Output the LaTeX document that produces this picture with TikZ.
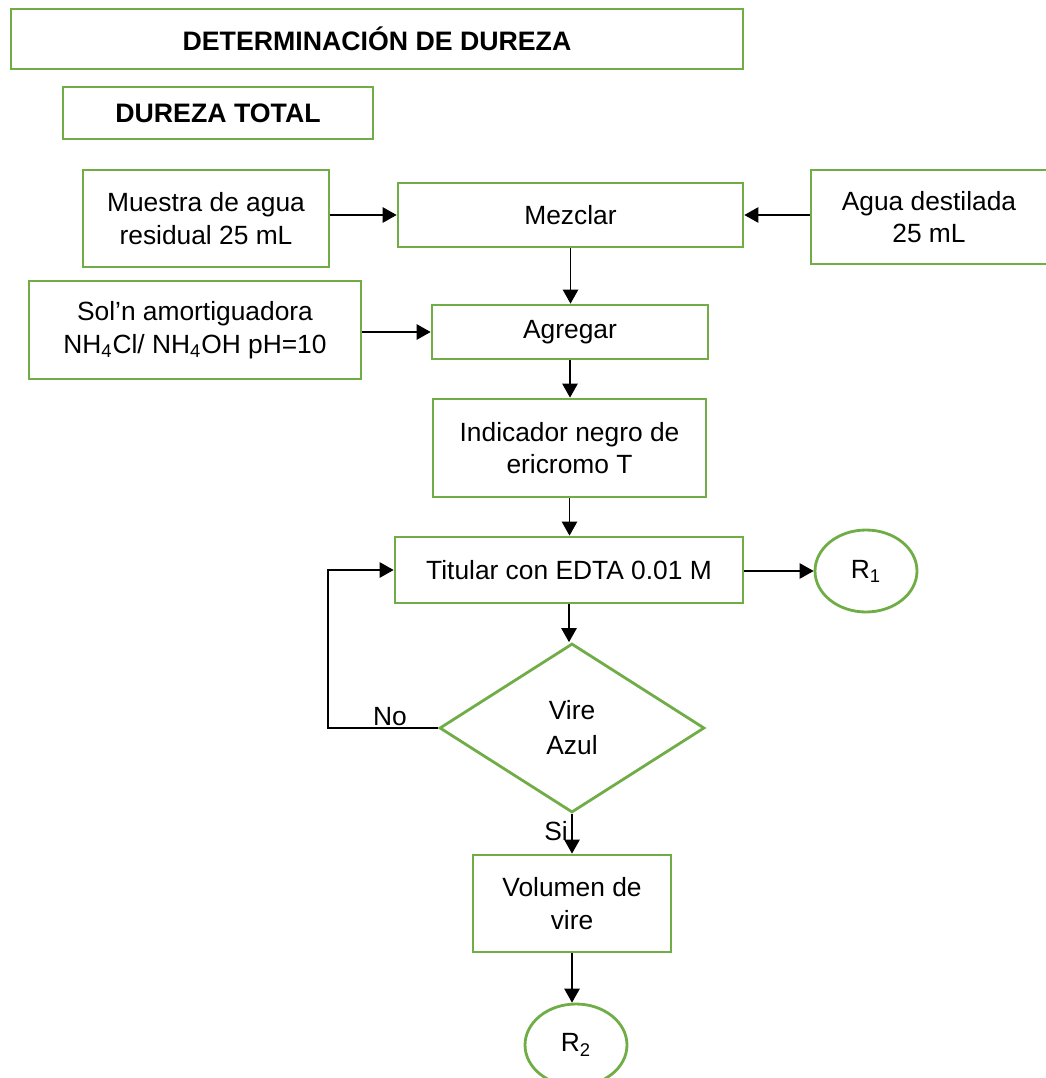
\documentclass[tikz,border=0pt]{standalone}
\usepackage{fontspec}
\setmainfont{Liberation Sans}
\usetikzlibrary{shapes.geometric, arrows.meta}
\definecolor{boxgreen}{HTML}{70AD47}
\tikzstyle{box} = [draw=boxgreen, line width=1.6pt, rectangle, align=center, font=\fontsize{15}{18.5}\selectfont]
\tikzstyle{titlebox} = [box, font=\fontsize{15.2}{18}\selectfont\bfseries]
\tikzstyle{result} = [draw=boxgreen, line width=1.6pt, ellipse, minimum width=2.04cm, minimum height=1.64cm, font=\fontsize{15}{18}\selectfont]
\tikzstyle{decision} = [draw=boxgreen, line width=1.6pt, diamond, aspect=1.57, minimum width=5.3cm, minimum height=3.38cm, align=center, inner sep=0pt, font=\fontsize{15}{20}\selectfont]
\tikzstyle{arrow} = [line width=0.6pt, -{Triangle[length=2.8mm,width=3.1mm]}]
\tikzstyle{tag} = [font=\fontsize{15}{18}\selectfont, inner sep=0pt]

\begin{document}
\begin{tikzpicture}[x=0.02cm, y=-0.02cm]
	\useasboundingbox (0,0) rectangle (1045,1078);
	% headings
	\node[titlebox, minimum width=14.64cm, minimum height=1.2cm] (title) at (377,39) {DETERMINACI\'ON DE DUREZA};
	\node[titlebox, minimum width=6.2cm, minimum height=1.04cm] (total) at (218,113) {DUREZA TOTAL};
	% boxes
	\node[box, minimum width=4.92cm, minimum height=1.94cm] (muestra) at (206,218.5) {Muestra de agua\\residual 25 mL};
	\node[box, minimum width=6.9cm, minimum height=1.28cm] (mezclar) at (570.5,215) {Mezclar};
	\node[box, minimum width=4.72cm, minimum height=1.88cm] (agua) at (929,217) {Agua destilada\\25 mL};
	\node[box, minimum width=6.64cm, minimum height=1.96cm] (sol) at (195,330) {Sol’n amortiguadora\\NH\textsubscript{4}Cl/ NH\textsubscript{4}OH pH=10};
	\node[box, minimum width=5.52cm, minimum height=1.08cm] (agregar) at (570,332) {Agregar};
	\node[box, minimum width=5.46cm, minimum height=1.96cm] (indicador) at (569.5,448) {Indicador negro de\\ericromo T};
	\node[box, minimum width=6.96cm, minimum height=1.32cm] (titular) at (569,570) {Titular con EDTA 0.01 M};
	\node[result] (r1) at (866,571) {R\textsubscript{1}};
	\node[decision] (vire) at (572,728) {Vire\\Azul};
	\node[box, minimum width=3.96cm, minimum height=1.94cm] (volumen) at (572,903.5) {Volumen de\\vire};
	\node[result] (r2) at (576,1045) {R\textsubscript{2}};
	% connectors
	\draw[arrow] (muestra.east |- mezclar.west) -- (mezclar.west);
	\draw[arrow] (agua.west |- mezclar.east) -- (mezclar.east);
	\draw[arrow] (mezclar.south) -- (mezclar.south |- agregar.north);
	\draw[arrow] (sol.east |- agregar.west) -- (agregar.west);
	\draw[arrow] (agregar.south) -- (agregar.south |- indicador.north);
	\draw[arrow] (indicador.south) -- (indicador.south |- titular.north);
	\draw[arrow] (titular.east |- r1.west) -- (r1.west);
	\draw[arrow] (titular.south) -- (titular.south |- vire.north);
	\coordinate (bend) at (328,728);
	\draw[arrow] (vire.west) -- (bend) |- (titular.west);
	\node[tag] (no) at (390,717) {No};
	\draw[arrow] (vire.south) -- (vire.south |- volumen.north);
	\node[tag] (si) at (556,831) {Si};
	\draw[arrow] (volumen.south) -- (volumen.south |- r2.north);
\end{tikzpicture}
\end{document}
